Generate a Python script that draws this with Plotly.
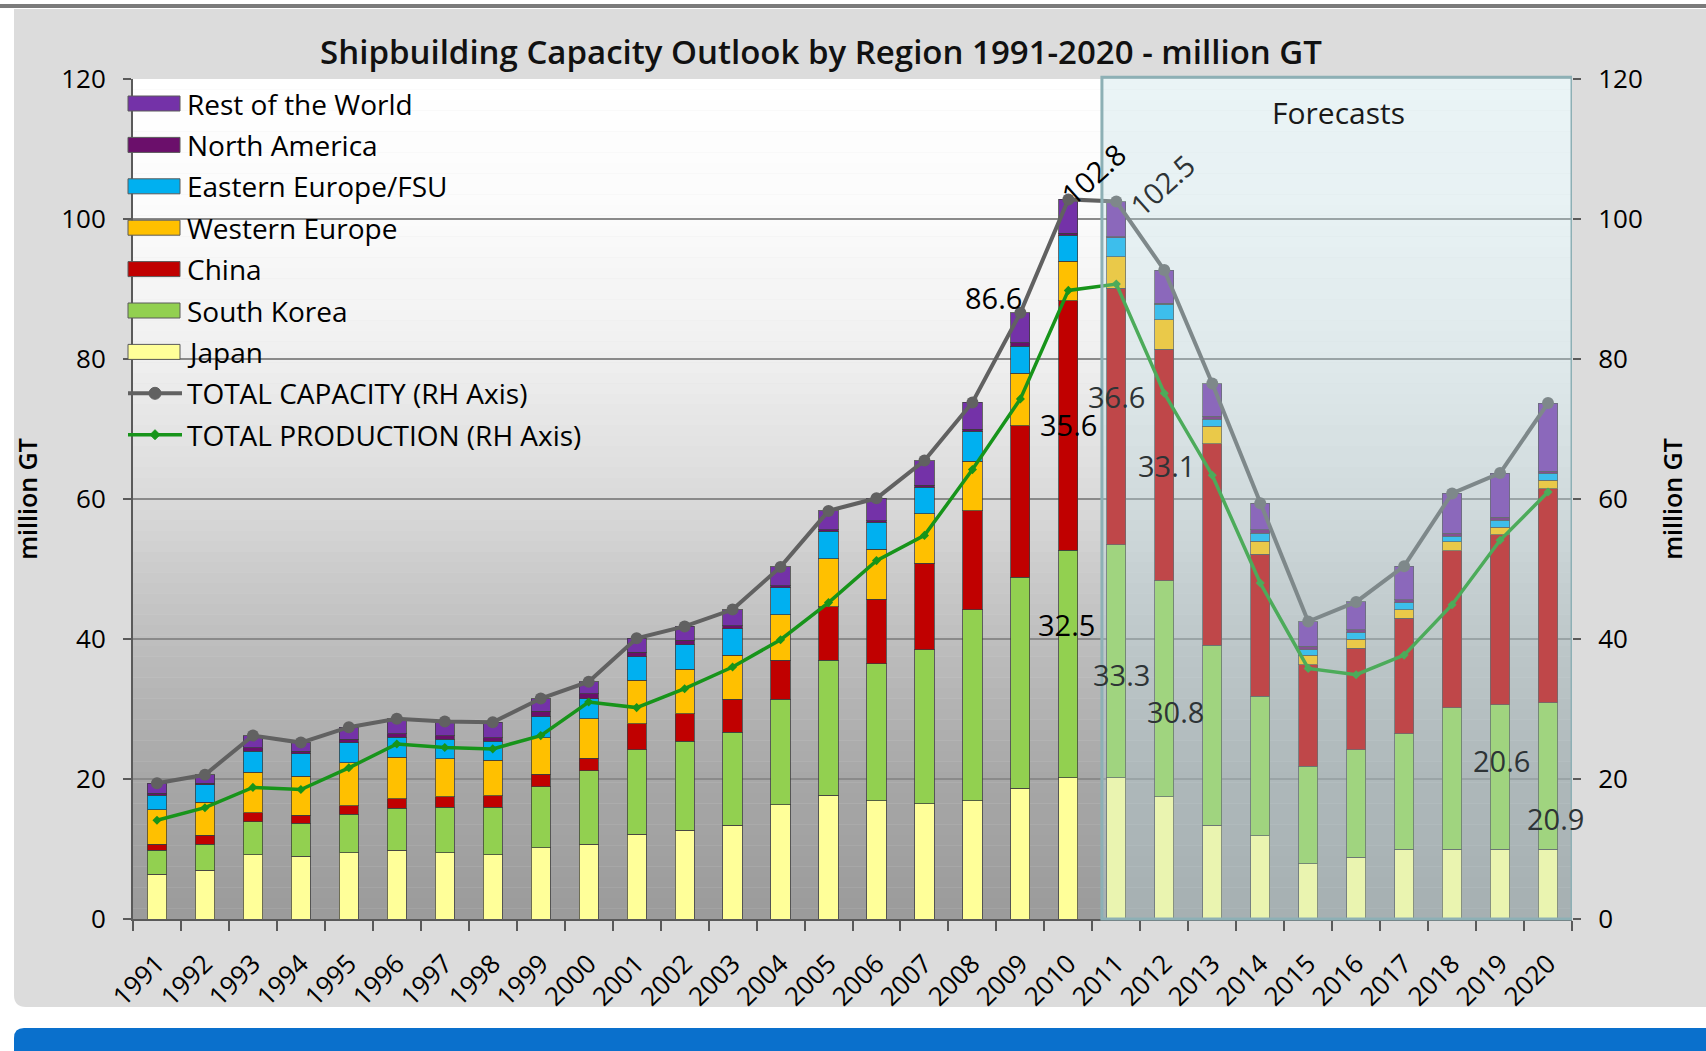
import plotly.graph_objects as go

# ---------------- data (million GT) ----------------
years = list(range(1991, 2021))
year_labels = [str(y) for y in years]

japan = [6.4, 7.0, 9.2, 9.0, 9.5, 9.8, 9.5, 9.2, 10.2, 10.7,
         12.1, 12.7, 13.4, 16.3, 17.7, 16.9, 16.5, 16.9, 18.7, 20.2,
         20.2, 17.5, 13.4, 11.9, 7.9, 8.8, 10.0, 10.0, 10.0, 10.0]
south_korea = [3.4, 3.7, 4.7, 4.7, 5.5, 6.0, 6.5, 6.8, 8.7, 10.5,
               12.1, 12.7, 13.3, 15.1, 19.3, 19.6, 22.0, 27.3, 30.1, 32.5,
               33.3, 30.8, 25.7, 19.9, 13.9, 15.4, 16.5, 20.2, 20.6, 20.9]
china = [0.9, 1.3, 1.3, 1.1, 1.2, 1.4, 1.5, 1.6, 1.8, 1.8,
         3.7, 3.9, 4.7, 5.6, 7.6, 9.2, 12.3, 14.1, 21.7, 35.6,
         36.6, 33.1, 28.8, 20.3, 14.5, 14.5, 16.5, 22.4, 24.3, 30.6]
western_europe = [4.9, 4.7, 5.8, 5.6, 6.1, 5.9, 5.4, 5.1, 5.2, 5.6,
                  6.2, 6.4, 6.3, 6.5, 6.9, 7.1, 7.1, 7.1, 7.5, 5.7,
                  4.5, 4.2, 2.5, 1.9, 1.4, 1.3, 1.2, 1.3, 1.1, 1.2]
eastern_europe = [2.1, 2.5, 3.0, 3.2, 2.9, 2.9, 2.8, 2.7, 3.0, 2.9,
                  3.4, 3.5, 3.8, 3.8, 3.9, 3.9, 3.8, 4.3, 3.8, 3.7,
                  2.7, 2.2, 1.0, 1.1, 0.8, 0.9, 1.0, 0.8, 1.0, 1.0]
north_america = [0.3, 0.2, 0.5, 0.4, 0.5, 0.5, 0.5, 0.5, 0.8, 0.7,
                 0.6, 0.6, 0.4, 0.3, 0.2, 0.2, 0.3, 0.3, 0.5, 0.3,
                 0.2, 0.2, 0.4, 0.5, 0.5, 0.4, 0.4, 0.4, 0.4, 0.3]
rest_of_world = [1.4, 1.2, 1.7, 1.2, 1.7, 2.1, 2.0, 2.2, 1.8, 1.7,
                 2.0, 2.0, 2.3, 2.7, 2.7, 3.2, 3.5, 3.8, 4.3, 4.8,
                 5.0, 4.7, 4.7, 3.8, 3.5, 4.0, 4.8, 5.7, 6.3, 9.7]
total_capacity = [19.4, 20.6, 26.2, 25.2, 27.4, 28.6, 28.2, 28.1, 31.5, 33.9,
                  40.1, 41.8, 44.2, 50.3, 58.3, 60.1, 65.5, 73.8, 86.6, 102.8,
                  102.5, 92.7, 76.5, 59.4, 42.5, 45.3, 50.4, 60.8, 63.7, 73.7]
total_production = [14.1, 15.9, 18.8, 18.5, 21.6, 25.0, 24.5, 24.3, 26.2, 31.0,
                     30.2, 32.9, 36.0, 39.9, 45.2, 51.2, 54.8, 64.2, 74.3, 89.8,
                     90.7, 75.1, 63.4, 48.0, 35.8, 34.9, 37.7, 44.9, 54.1, 61.0]

y_ticks = [0, 20, 40, 60, 80, 100, 120]
forecast_start = 2011

# stacking order bottom -> top
series = [
    ("Japan", japan, "#ffff99"),
    ("South Korea", south_korea, "#92d050"),
    ("China", china, "#c00000"),
    ("Western Europe", western_europe, "#ffc000"),
    ("Eastern Europe/FSU", eastern_europe, "#00b0f0"),
    ("North America", north_america, "#6b0f6b"),
    ("Rest of the World", rest_of_world, "#7432a8"),
]
CAP_COLOR = "#616161"
PROD_COLOR = "#17941a"
FONT = "Open Sans"

# ---------------- geometry helpers (pixels -> paper) ----------------
W, H = 1706, 1051
L, T, PW, PH = 133, 79, 1439, 840


def px(x):
    return (x - L) / PW


def py(y):
    return (T + PH - y) / PH


fig = go.Figure()

for name, vals, color in series:
    fig.add_trace(go.Bar(
        x=years, y=vals, name=name, marker_color=color,
        marker_line=dict(color="rgba(60,60,60,0.75)", width=1),
        yaxis="y", showlegend=False, hoverinfo="x+y+name"))

fig.add_trace(go.Scatter(
    x=years, y=total_capacity, name="TOTAL CAPACITY (RH Axis)", yaxis="y2",
    mode="lines+markers", line=dict(color=CAP_COLOR, width=4),
    marker=dict(symbol="circle", size=12, color=CAP_COLOR), showlegend=False))
fig.add_trace(go.Scatter(
    x=years, y=total_production, name="TOTAL PRODUCTION (RH Axis)", yaxis="y2",
    mode="lines+markers", line=dict(color=PROD_COLOR, width=3.5),
    marker=dict(symbol="diamond", size=7, color=PROD_COLOR), showlegend=False))

shapes = []
# outer grey panel with rounded bottom-left corner
shapes.append(dict(
    type="path", xref="paper", yref="paper", layer="below",
    path=(f"M {px(14)},{py(9)} L {px(1710)},{py(9)} L {px(1710)},{py(1007)} "
          f"L {px(26)},{py(1007)} Q {px(14)},{py(1007)} {px(14)},{py(995)} Z"),
    fillcolor="#dcdcdc", line=dict(width=0)))
# top dark rule
shapes.append(dict(type="line", xref="paper", yref="paper", layer="below",
                   x0=px(0), x1=px(1710), y0=py(6), y1=py(6),
                   line=dict(color="#7b7b7b", width=4)))
# bottom blue band
shapes.append(dict(
    type="path", xref="paper", yref="paper", layer="below",
    path=(f"M {px(14)},{py(1060)} L {px(14)},{py(1038)} Q {px(14)},{py(1028)} {px(24)},{py(1028)} "
          f"L {px(1710)},{py(1028)} L {px(1710)},{py(1060)} Z"),
    fillcolor="#0a70cc", line=dict(width=0)))

# plot-area vertical gradient (white at top, grey at bottom)
stops = [(0, 155), (20, 167), (40, 190), (60, 218), (80, 239), (100, 251), (120, 255)]


def shade(v):
    for (a, ca), (b, cb) in zip(stops[:-1], stops[1:]):
        if a <= v <= b:
            return ca + (cb - ca) * (v - a) / (b - a)
    return 255


n = 80
for i in range(n):
    y0 = 120 * i / n
    y1 = 120 * (i + 1) / n
    c = int(round(shade((y0 + y1) / 2)))
    shapes.append(dict(type="rect", xref="paper", yref="y", layer="below",
                       x0=0, x1=1, y0=y0, y1=y1 + 0.05,
                       fillcolor=f"rgb({c},{c},{c})", line=dict(width=0)))

# darker gridlines at 40 and 80
for gv in (40, 80):
    shapes.append(dict(type="line", xref="paper", yref="y", layer="between",
                       x0=0, x1=1, y0=gv, y1=gv,
                       line=dict(color="#1e1e1e", width=2)))

# forecast shading box (drawn above the traces, washing them out)
shapes.append(dict(type="rect", xref="x", yref="paper", layer="above",
                   x0=forecast_start - 0.3, x1=years[-1] + 0.5, y0=0, y1=1.002,
                   fillcolor="rgba(190,222,228,0.32)",
                   line=dict(color="#8db0b5", width=3)))

# ---------------- manual legend ----------------
legend_items = [(n_, c_) for n_, _, c_ in reversed(series)]
row0, row_step = 103.5, 41.4
LEG_SIZE = 28
annotations = []
for k, (name, color) in enumerate(legend_items):
    yc = row0 + k * row_step
    shapes.append(dict(type="rect", xref="paper", yref="paper", layer="above",
                       x0=px(128), x1=px(180), y0=py(yc + 7.5), y1=py(yc - 7.5),
                       fillcolor=color, line=dict(color="#5a5a5a", width=1)))
    annotations.append(dict(xref="paper", yref="paper", x=px(185), y=py(yc),
                            xanchor="left", yanchor="middle", text=name, showarrow=False,
                            font=dict(family=FONT, size=LEG_SIZE, color="#000")))
for k, (name, color, msize, sym) in enumerate([
        ("TOTAL CAPACITY (RH Axis)", CAP_COLOR, 12, "circle"),
        ("TOTAL PRODUCTION (RH Axis)", PROD_COLOR, 7, "diamond")]):
    yc = row0 + (len(legend_items) + k) * row_step
    shapes.append(dict(type="line", xref="paper", yref="paper", layer="above",
                       x0=px(128), x1=px(182), y0=py(yc), y1=py(yc),
                       line=dict(color=color, width=4 if k == 0 else 3.5)))
    r = msize / 2
    shapes.append(dict(type="circle" if sym == "circle" else "path", xref="paper", yref="paper",
                       layer="above",
                       **({"x0": px(155 - r), "x1": px(155 + r), "y0": py(yc + r), "y1": py(yc - r)}
                          if sym == "circle" else
                          {"path": f"M {px(155)},{py(yc - 5)} L {px(160)},{py(yc)} L {px(155)},{py(yc + 5)} L {px(150)},{py(yc)} Z"}),
                       fillcolor=color, line=dict(color=color, width=1)))
    annotations.append(dict(xref="paper", yref="paper", x=px(185), y=py(yc),
                            xanchor="left", yanchor="middle", text=name, showarrow=False,
                            font=dict(family=FONT, size=LEG_SIZE, color="#000")))

# ---------------- data labels ----------------
values = {"cap": total_capacity, "japan": japan, "korea": south_korea, "china": china}
# (series, year, x position, y position, angle)
label_specs = [
    ("cap", 2009, None, None, 0),
    ("cap", 2010, None, None, -42),
    ("cap", 2011, None, None, -42),
    ("china", 2010, 2010.0, 70.6, 0),
    ("china", 2011, 2011.0, 74.6, 0),
    ("china", 2012, 2012.05, 64.8, 0),
    ("korea", 2010, 2009.97, 42.1, 0),
    ("korea", 2011, 2011.1, 35.0, 0),
    ("korea", 2012, 2012.23, 29.6, 0),
    ("korea", 2019, 2019.04, 22.7, 0),
    ("korea", 2020, 2020.16, 14.3, 0),
]
LBL_SIZE = 29
cap_offsets = {2009: ("right", "bottom", 4, -6), 2010: ("center", "middle", 25, 26),
               2011: ("center", "middle", 46, 17)}
for key, yr, xp, yp, ang in label_specs:
    v = values[key][years.index(yr)]
    txt = f"{v:.1f}"
    col = "#000000" if yr < forecast_start else "#2e3436"
    if key == "cap":
        xa, ya, xs, ys = cap_offsets[yr]
        annotations.append(dict(x=yr, y=v, xref="x", yref="y2", text=txt, showarrow=False,
                                xanchor=xa, yanchor=ya, xshift=xs, yshift=ys, textangle=ang,
                                font=dict(family=FONT, size=LBL_SIZE, color=col)))
    else:
        annotations.append(dict(x=xp, y=yp, xref="x", yref="y", text=txt, showarrow=False,
                                xanchor="center", yanchor="middle", textangle=ang,
                                font=dict(family=FONT, size=LBL_SIZE, color=col)))

annotations.append(dict(xref="paper", yref="paper", x=px(1338), y=py(113), text="Forecasts",
                        showarrow=False, xanchor="center", yanchor="middle",
                        font=dict(family=FONT, size=30, color="#1a1a1a")))

fig.update_layout(
    width=W, height=H,
    margin=dict(l=L, r=W - L - PW, t=T, b=H - T - PH, pad=0),
    paper_bgcolor="#ffffff", plot_bgcolor="rgba(0,0,0,0)",
    barmode="stack", bargap=0.6,
    font=dict(family=FONT, color="#000000", size=24),
    title=dict(text="Shipbuilding Capacity Outlook by Region 1991-2020 - million GT",
               x=821 / W, xanchor="center", y=1 - 52 / H, yanchor="middle",
               font=dict(family=FONT, size=33, color="#111", weight=600)),
    showlegend=False,
    shapes=shapes, annotations=annotations,
    xaxis=dict(range=[years[0] - 0.5, years[-1] + 0.5], tickmode="array",
               tickvals=years, ticktext=year_labels, tickangle=-45,
               tickfont=dict(family=FONT, size=26, color="#000"),
               ticks="", showgrid=False, zeroline=False,
               showline=True, linecolor="#5a5a5a", linewidth=2,
               ticklabelstandoff=17,
               minor=dict(ticks="outside", tickmode="array",
                          tickvals=[y - 0.5 for y in years] + [years[-1] + 0.5],
                          ticklen=10, tickwidth=1.5, tickcolor="#5a5a5a", showgrid=False)),
    yaxis=dict(range=[0, 120], tickmode="array", tickvals=y_ticks,
               tickfont=dict(family=FONT, size=26, color="#000"),
               ticks="outside", ticklen=8, tickwidth=1.5, tickcolor="#5a5a5a",
               ticklabelstandoff=12,
               showline=True, linecolor="#5a5a5a", linewidth=2,
               showgrid=True, gridcolor="#8a8a8a", gridwidth=1.5, zeroline=False,
               title=dict(text="million GT", standoff=16,
                          font=dict(family=FONT, size=25, color="#000", weight=600))),
    yaxis2=dict(range=[0, 120], tickmode="array", tickvals=y_ticks, overlaying="y", side="right",
                tickfont=dict(family=FONT, size=26, color="#000"),
                ticks="outside", ticklen=8, tickwidth=1.5, tickcolor="#5a5a5a",
                ticklabelstandoff=12,
                showline=False, showgrid=False, zeroline=False,
                title=dict(text="million GT", standoff=22,
                           font=dict(family=FONT, size=25, color="#000", weight=600))),
)

fig.write_html("out.html", config={"displayModeBar": False},
               post_script="document.body.style.margin='0';document.body.style.overflow='hidden';")
